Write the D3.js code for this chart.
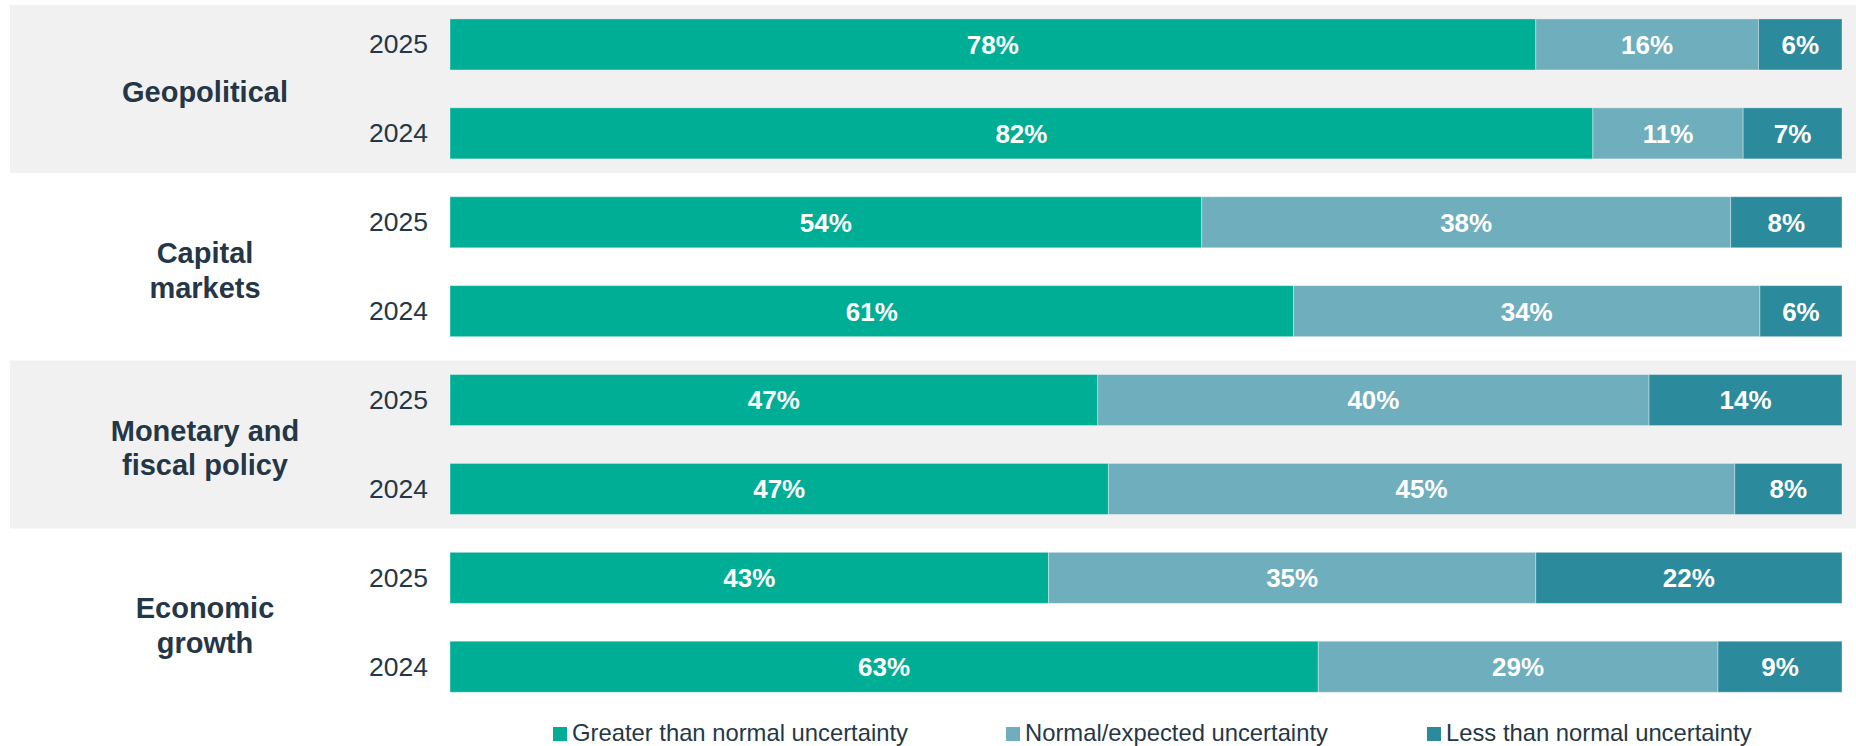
<!DOCTYPE html>
<html>
<head>
<meta charset="utf-8">
<script src="https://cdn.jsdelivr.net/npm/d3@7"></script>
<style>
  html, body { margin: 0; padding: 0; background: #ffffff; }
  svg { display: block; }
</style>
</head>
<body>
<svg id="chart" width="1856" height="746"></svg>
<script>
// ---- Data ----
const categories = ["Geopolitical", "Capital markets", "Monetary and fiscal policy", "Economic growth"];
const categoryLines = [["Geopolitical"], ["Capital", "markets"], ["Monetary and", "fiscal policy"], ["Economic", "growth"]];
const years = ["2025", "2024"];
const seriesNames = ["Greater than normal uncertainty", "Normal/expected uncertainty", "Less than normal uncertainty"];
// shares (labels show rounded values)
const greater  = [78, 82.1, 54, 60.6, 47, 47.3, 43, 63];
const normal   = [16, 10.8, 38, 33.5, 40, 45.0, 35, 29];
const less     = [ 6,  7.1,  8,  5.9, 14,  7.7, 22,  9];

// ---- Styles ----
const colors = ["#00AE95", "#6FAEBC", "#2B8A9B"];
const textColor = "#253746";
const bandFill = "#F1F1F1";

const W = 1856, H = 746;
const svg = d3.select("#chart");

// Build rows
const rows = [];
categories.forEach((c, ci) => {
  years.forEach((y, yi) => {
    const i = ci * 2 + yi;
    rows.push({ id: c + "|" + y, cat: c, ci, year: y, g: greater[i], n: normal[i], l: less[i] });
  });
});

const keys = ["g", "n", "l"];
const stack = d3.stack().keys(keys).offset(d3.stackOffsetExpand);
const stacked = stack(rows);

const x = d3.scaleLinear().domain([0, 1]).range([450, 1842]);
const y = d3.scaleBand().domain(rows.map(r => r.id)).range([0, 711.2]).paddingInner(0.426).paddingOuter(0.213);
const bw = y.bandwidth();

// Gray bands for alternate groups
categories.forEach((c, ci) => {
  if (ci % 2 !== 0) return;
  const top = y(c + "|" + years[0]) + bw / 2;
  const bot = y(c + "|" + years[1]) + bw / 2;
  const mid = (top + bot) / 2;
  svg.append("rect")
    .attr("x", 10).attr("y", mid - 84)
    .attr("width", W - 10).attr("height", 168)
    .attr("fill", bandFill);
});

// Bars
const layers = svg.selectAll("g.layer").data(stacked).join("g")
  .attr("class", "layer")
  .attr("fill", (d, i) => colors[i]);

layers.selectAll("rect").data(d => d.map(v => ({ v, key: d.key }))).join("rect")
  .attr("x", d => x(d.v[0]))
  .attr("y", d => y(d.v.data.id))
  .attr("width", d => x(d.v[1]) - x(d.v[0]))
  .attr("height", bw)
  .attr("stroke", "#ffffff")
  .attr("stroke-opacity", 0.35)
  .attr("stroke-width", 1);

// Value labels
layers.selectAll("text").data(d => d.map(v => ({ v, key: d.key }))).join("text")
  .attr("x", d => (x(d.v[0]) + x(d.v[1])) / 2)
  .attr("y", d => y(d.v.data.id) + bw / 2)
  .attr("dy", "0.36em")
  .attr("text-anchor", "middle")
  .attr("fill", "#ffffff")
  .attr("font-family", "Liberation Sans, Arial, sans-serif")
  .attr("font-weight", "bold")
  .attr("font-size", 26)
  .text(d => Math.round(d.v.data[d.key]) + "%");

// Year labels
svg.append("g").selectAll("text").data(rows).join("text")
  .attr("x", 428)
  .attr("y", d => y(d.id) + bw / 2)
  .attr("dy", "0.34em")
  .attr("text-anchor", "end")
  .attr("fill", textColor)
  .attr("font-family", "Liberation Sans, Arial, sans-serif")
  .attr("font-size", 26.5)
  .text(d => d.year);

// Category labels
categories.forEach((c, ci) => {
  const top = y(c + "|" + years[0]) + bw / 2;
  const bot = y(c + "|" + years[1]) + bw / 2;
  const mid = (top + bot) / 2;
  const lines = categoryLines[ci];
  const lh = 34.7;
  const t = svg.append("text")
    .attr("text-anchor", "middle")
    .attr("fill", textColor)
    .attr("font-family", "Liberation Sans, Arial, sans-serif")
    .attr("font-weight", "bold")
    .attr("font-size", 29);
  lines.forEach((ln, li) => {
    t.append("tspan")
      .attr("x", 205)
      .attr("y", mid + 2.5 + (li - (lines.length - 1) / 2) * lh)
      .attr("dy", "0.38em")
      .text(ln);
  });
});

// Legend
const legendX = [553, 1006, 1427];
const lg = svg.append("g").selectAll("g").data(seriesNames).join("g")
  .attr("transform", (d, i) => `translate(${legendX[i]},0)`);
lg.append("rect").attr("x", 0).attr("y", 727).attr("width", 14).attr("height", 14)
  .attr("fill", (d, i) => colors[i]);
lg.append("text").attr("x", 19).attr("y", 741)
  .attr("fill", textColor)
  .attr("font-family", "Liberation Sans, Arial, sans-serif")
  .attr("font-size", 23.8)
  .text(d => d);
</script>
</body>
</html>
